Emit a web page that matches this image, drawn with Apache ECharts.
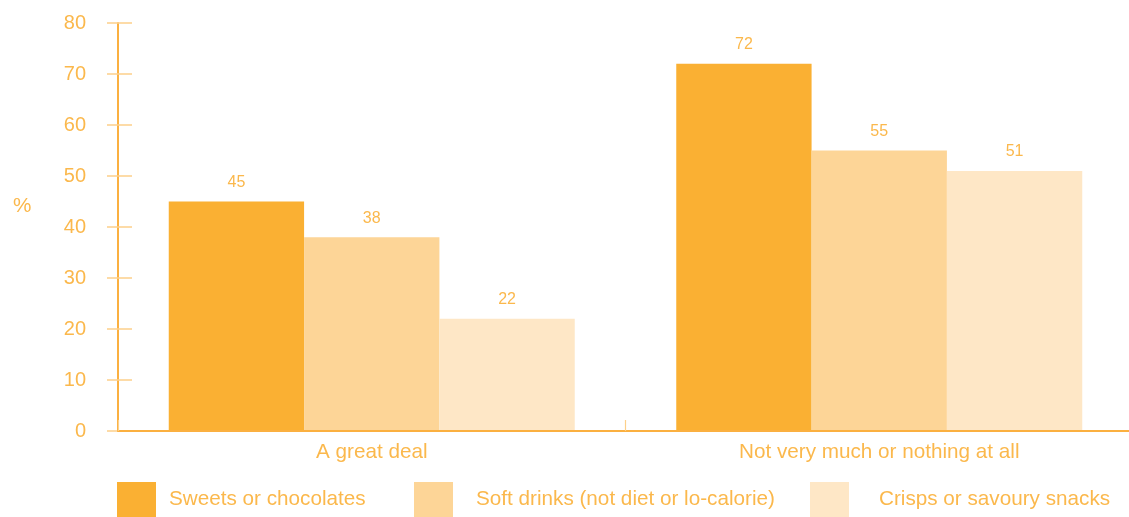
<!DOCTYPE html>
<html>
<head>
<meta charset="utf-8">
<script src="https://cdn.jsdelivr.net/npm/echarts@6/dist/echarts.min.js"></script>
<style>
html,body{margin:0;padding:0;background:#fff;}
#chart{width:1129px;height:517px;}
</style>
</head>
<body>
<div id="chart"></div>
<script>
const categories = ['A great deal', 'Not very much or nothing at all'];
const seriesNames = ['Sweets or chocolates', 'Soft drinks (not diet or lo-calorie)', 'Crisps or savoury snacks'];
const sweets = [45, 72];
const softDrinks = [38, 55];
const crisps = [22, 51];
const yTicks = [0, 10, 20, 30, 40, 50, 60, 70, 80];

const colors = ['#FAB033', '#FDD597', '#FEE7C6'];
const textColor = '#FBB84C';
const axisColor = '#FBB040';
const tickColor = '#FDD08A';
const font = 'Liberation Sans';
const fs = 20.7;

const chart = echarts.init(document.getElementById('chart'));
const yMin = yTicks[0], yMax = yTicks[yTicks.length - 1], yInt = yTicks[1] - yTicks[0];

function barSeries(name, data, color) {
  return {
    name: name, type: 'bar', data: data,
    barGap: '0%', barCategoryGap: '20%',
    itemStyle: { color: color },
    label: { show: true, position: 'top', distance: 11, color: textColor, fontSize: 16, fontFamily: font },
    emphasis: { disabled: true }
  };
}

function legendAt(left, idx, pad) {
  return {
    data: [seriesNames[idx]], left: left, top: 482, padding: 0,
    itemWidth: 39, itemHeight: 35, icon: 'rect',
    textStyle: { color: textColor, fontSize: fs, fontFamily: font, padding: [0, 0, 0, pad] },
    selectedMode: false
  };
}

chart.setOption({
  animation: false,
  textStyle: { fontFamily: font },
  grid: { left: 118, width: 1015, top: 23, bottom: 86, containLabel: false, outerBoundsMode: 'none' },
  legend: [legendAt(117, 0, 8), legendAt(414, 1, 18), legendAt(810, 2, 25)],
  xAxis: {
    type: 'category', data: categories, z: 3,
    axisLine: { show: true, lineStyle: { color: axisColor, width: 2 } },
    axisTick: { show: true, inside: true, length: 11, lineStyle: { color: tickColor, width: 1.2 } },
    axisLabel: { color: textColor, fontSize: fs, margin: 11, fontFamily: font }
  },
  yAxis: [{
    type: 'value', min: yMin, max: yMax, interval: yInt,
    axisLine: { show: true, lineStyle: { color: axisColor, width: 2 } },
    axisTick: { show: true, length: 11, lineStyle: { color: tickColor, width: 1.5 } },
    axisLabel: { color: textColor, fontSize: 20, margin: 32, fontFamily: font },
    splitLine: { show: false }
  }, {
    type: 'value', min: yMin, max: yMax, interval: yInt, position: 'left',
    axisLine: { show: false },
    axisTick: { show: true, inside: true, length: 14, lineStyle: { color: tickColor, width: 1.5 } },
    axisLabel: { show: false },
    splitLine: { show: false }
  }],
  graphic: [{
    type: 'text', left: 13, top: 196,
    style: { text: '%', fill: textColor, fontSize: fs, fontFamily: font }
  }],
  series: [
    barSeries(seriesNames[0], sweets, colors[0]),
    barSeries(seriesNames[1], softDrinks, colors[1]),
    barSeries(seriesNames[2], crisps, colors[2])
  ]
});
</script>
</body>
</html>
